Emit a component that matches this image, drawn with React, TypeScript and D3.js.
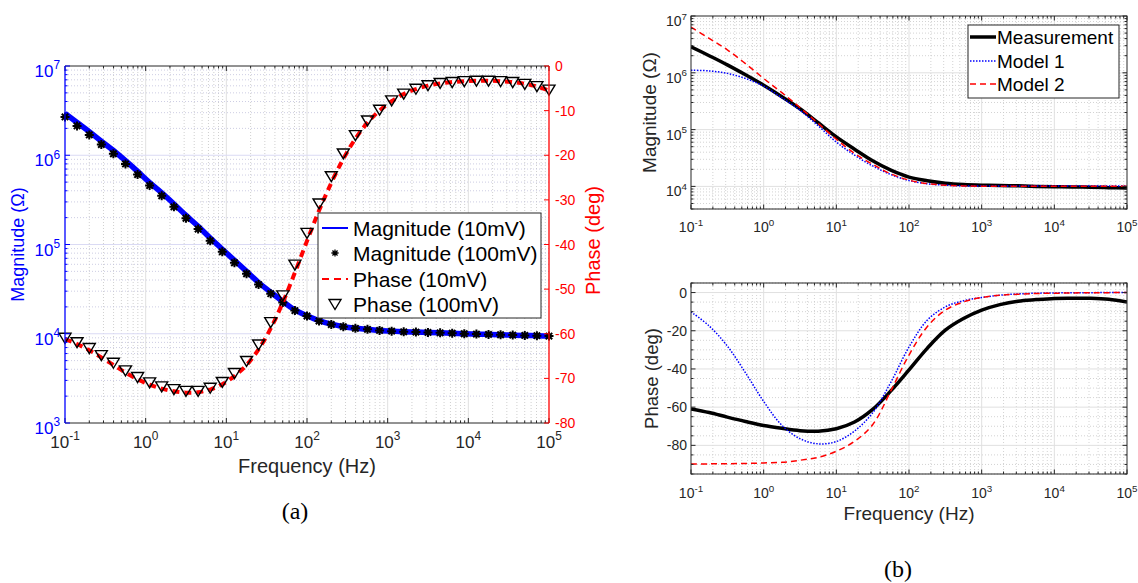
import { useEffect, useRef } from 'react';
import * as d3 from 'd3';

// ---------- panel (a): 10 mV vs 100 mV sweep ----------
const freqA = [
  0.1, 0.141, 0.2, 0.282, 0.398, 0.562, 0.794, 1.12, 1.58, 2.24,
  3.16, 4.47, 6.31, 8.91, 12.6, 17.8, 25.1, 35.5, 50.1, 70.8,
  100, 141, 200, 282, 398, 562, 794, 1120, 1580, 2240,
  3160, 4470, 6310, 8910, 12600, 17800, 25100, 35500, 50100, 70800, 100000,
];
const mag10mV = [
  2.95e6, 2.33e6, 1.84e6, 1.44e6, 1.13e6, 8.7e5, 6.6e5, 4.95e5, 3.8e5, 2.85e5,
  2.12e5, 1.6e5, 1.18e5, 8.85e4, 6.65e4, 5.0e4, 3.75e4, 2.92e4, 2.3e4, 1.85e4,
  1.59e4, 1.4e4, 1.28e4, 1.2e4, 1.15e4, 1.12e4, 1.09e4, 1.07e4, 1.055e4, 1.045e4,
  1.035e4, 1.025e4, 1.015e4, 1.0e4, 9.9e3, 9.82e3, 9.74e3, 9.65e3, 9.57e3, 9.5e3, 9.42e3,
];
const mag100mV = [
  2.69e6, 2.13e6, 1.69e6, 1.32e6, 1.04e6, 8.0e5, 6.08e5, 4.57e5, 3.51e5, 2.64e5,
  1.97e5, 1.49e5, 1.1e5, 8.28e4, 6.24e4, 4.7e4, 3.56e4, 2.81e4, 2.24e4, 1.82e4,
  1.58e4, 1.39e4, 1.27e4, 1.2e4, 1.15e4, 1.12e4, 1.09e4, 1.07e4, 1.05e4, 1.045e4,
  1.035e4, 1.025e4, 1.016e4, 1.0e4, 9.91e3, 9.84e3, 9.75e3, 9.66e3, 9.57e3, 9.51e3, 9.42e3,
];
const phase10mV = [
  -61.2, -62.3, -63.7, -65.3, -67.0, -68.7, -70.2, -71.4, -72.3, -72.9,
  -73.2, -73.1, -72.5, -71.3, -69.5, -67.0, -63.5, -58.8, -53.0, -46.3,
  -39.2, -32.4, -26.2, -20.8, -16.3, -12.7, -10.0, -7.9, -6.3, -5.2,
  -4.4, -3.9, -3.6, -3.4, -3.3, -3.3, -3.4, -3.6, -4.0, -4.6, -5.5,
];
const phase100mV = [
  -60.9, -61.9, -63.2, -64.8, -66.5, -68.2, -69.7, -70.9, -71.8, -72.4,
  -72.8, -72.8, -72.1, -70.8, -68.8, -66.1, -62.4, -57.4, -51.4, -44.5,
  -37.4, -30.8, -24.7, -19.6, -15.5, -12.2, -9.8, -7.7, -6.2, -5.1,
  -4.3, -3.8, -3.6, -3.4, -3.3, -3.3, -3.4, -3.6, -4.0, -4.5, -5.3,
];

// ---------- panel (b): measurement vs models ----------
const freqB = [
  0.1, 0.178, 0.316, 0.562, 1, 1.78, 3.16, 5.62, 10, 17.8, 31.6, 56.2, 100,
  178, 316, 562, 1000, 1780, 3160, 5620, 10000, 17800, 31600, 56200, 100000,
];
const magMeas = [
  2.88e6, 2.0e6, 1.38e6, 9.23e5, 6.05e5, 3.8e5, 2.33e5, 1.32e5, 7.43e4, 4.52e4, 2.82e4, 1.93e4, 1.46e4,
  1.26e4, 1.14e4, 1.08e4, 1.05e4, 1.035e4, 1.023e4, 1.0e4, 9.9e3, 9.77e3, 9.66e3, 9.5e3, 9.35e3,
];
const magModel1 = [
  1.11e6, 1.08e6, 9.77e5, 7.94e5, 5.82e5, 3.63e5, 2.19e5, 1.17e5, 6.03e4, 3.55e4, 2.29e4, 1.62e4, 1.27e4,
  1.11e4, 1.05e4, 1.02e4, 1.014e4, 1.012e4, 1.012e4, 1.012e4, 1.012e4, 1.012e4, 1.012e4, 1.012e4, 1.012e4,
];
const magModel2 = [
  6.38e6, 4.03e6, 2.54e6, 1.45e6, 7.94e5, 4.47e5, 2.45e5, 1.29e5, 6.76e4, 3.8e4, 2.45e4, 1.66e4, 1.29e4,
  1.12e4, 1.05e4, 1.02e4, 1.007e4, 1.005e4, 1.005e4, 1.005e4, 1.005e4, 1.005e4, 1.005e4, 1.005e4, 1.005e4,
];
const phaseMeas = [
  -60.9, -62.8, -65.2, -67.5, -69.6, -71.1, -72.3, -72.6, -71.3, -67.8, -61.2, -51.5, -40.5,
  -29.2, -19.7, -13.6, -9.2, -6.3, -4.5, -3.7, -3.1, -3.0, -3.0, -3.5, -4.9,
];
const phaseModel1 = [
  -10.1, -17.5, -28.0, -42.0, -57.0, -69.5, -76.5, -79.2, -78.0, -72.5, -63.0, -47.0, -28.5,
  -14.5, -7.5, -4.3, -2.6, -1.4, -0.7, -0.35, -0.2, -0.1, -0.05, 0, 0,
];
const phaseModel2 = [
  -89.7, -89.7, -89.6, -89.5, -89.2, -88.9, -87.8, -86.3, -83.1, -77.9, -69.2, -51.5, -32.7,
  -17.9, -9.2, -4.9, -2.6, -1.4, -0.9, -0.5, -0.35, -0.2, -0.1, -0.05, 0,
];

// tick values
const freqTicks = [0.1, 1, 10, 100, 1000, 10000, 100000];
const magTicksA = [1e3, 1e4, 1e5, 1e6, 1e7];
const phaseTicksA = [0, -10, -20, -30, -40, -50, -60, -70, -80];
const magTicksB = [1e4, 1e5, 1e6, 1e7];
const phaseTicksB = [0, -20, -40, -60, -80];

const legendA = ['Magnitude (10mV)', 'Magnitude (100mV)', 'Phase (10mV)', 'Phase (100mV)'];
const legendB = ['Measurement', 'Model 1', 'Model 2'];

const FONT = '"Liberation Sans", Arial, Helvetica, sans-serif';
const DARK = '#262626';
const BLUE = '#0000ff';
const RED = '#ff0000';

const isDecade = (v: number) => Math.abs(Math.log10(v) - Math.round(Math.log10(v))) < 1e-9;
const expOf = (v: number) => String(Math.round(Math.log10(v)));

const asterisk = 'M-4.5,0H4.5M0,-4.5V4.5M-3.2,-3.2L3.2,3.2M-3.2,3.2L3.2,-3.2';
const triangle = 'M-6,-4.5H6L0,5.5Z';

function hLines(g: any, ys: number[], box: any, color: string, dash: string | null) {
  g.append('g').selectAll('line').data(ys).join('line')
    .attr('x1', box.l).attr('x2', box.r)
    .attr('y1', (d: number) => d).attr('y2', (d: number) => d)
    .attr('stroke', color).attr('stroke-width', dash ? 0.8 : 1)
    .attr('stroke-dasharray', dash);
}

function vLines(g: any, xs: number[], box: any, color: string, dash: string | null) {
  g.append('g').selectAll('line').data(xs).join('line')
    .attr('y1', box.t).attr('y2', box.b)
    .attr('x1', (d: number) => d).attr('x2', (d: number) => d)
    .attr('stroke', color).attr('stroke-width', dash ? 0.8 : 1)
    .attr('stroke-dasharray', dash);
}

function xTicks(g: any, xs: number[], box: any, len: number) {
  g.append('g').selectAll('path').data(xs).join('path')
    .attr('d', (x: number) => `M${x},${box.b}v${-len}M${x},${box.t}v${len}`)
    .attr('stroke', DARK).attr('stroke-width', 1);
}

function yTicks(g: any, ys: number[], x0: number, dir: number, len: number, color: string) {
  g.append('g').selectAll('path').data(ys).join('path')
    .attr('d', (y: number) => `M${x0},${y}h${dir * len}`)
    .attr('stroke', color).attr('stroke-width', 1);
}

function powLabel(g: any, x: number, y: number, exp: string, size: number, anchor: string, color: string) {
  const t = g.append('text').attr('x', x).attr('y', y).attr('text-anchor', anchor)
    .attr('font-size', size).attr('fill', color);
  t.append('tspan').text('10');
  t.append('tspan').attr('dy', -size * 0.45).attr('font-size', size * 0.7).text(exp);
}

function clip(svg: any, id: string, box: any) {
  svg.append('clipPath').attr('id', id).append('rect')
    .attr('x', box.l).attr('y', box.t).attr('width', box.r - box.l).attr('height', box.b - box.t);
}

export default function App() {
  const ref = useRef<SVGSVGElement>(null);

  useEffect(() => {
    const svg = d3.select(ref.current);
    svg.selectAll('*').remove();
    svg.attr('font-family', FONT);

    // ================= (a) =================
    const A = { l: 65, r: 549, t: 66, b: 423 };
    const xA = d3.scaleLog().domain([0.1, 1e5]).range([A.l, A.r]);
    const yMag = d3.scaleLog().domain([1e3, 1e7]).range([A.b, A.t]);
    const yPh = d3.scaleLinear().domain([-80, 0]).range([A.b, A.t]);
    clip(svg, 'clipA', A);
    const gA = svg.append('g');

    const xMinorA = xA.ticks().filter(v => !isDecade(v));
    const yMinorA = yMag.ticks().filter(v => !isDecade(v));
    vLines(gA, xMinorA.map(xA), A, '#c4c4c4', '1,2');
    hLines(gA, yMinorA.map(yMag), A, '#c0c0dc', '1,2');
    vLines(gA, freqTicks.slice(1, -1).map(xA), A, '#e0e0e0', null);
    hLines(gA, magTicksA.slice(1, -1).map(yMag), A, '#dadaf4', null);

    // data
    const lineMagA = d3.line<number>().x((_, i) => xA(freqA[i])).y(d => yMag(d)).curve(d3.curveMonotoneX);
    const linePhA = d3.line<number>().x((_, i) => xA(freqA[i])).y(d => yPh(d)).curve(d3.curveCatmullRom);
    gA.append('path').datum(mag10mV).attr('d', lineMagA).attr('clip-path', 'url(#clipA)')
      .attr('fill', 'none').attr('stroke', BLUE).attr('stroke-width', 5.5);
    gA.append('g').selectAll('path').data(mag100mV).join('path')
      .attr('transform', (d, i) => `translate(${xA(freqA[i])},${yMag(d)})`)
      .attr('d', asterisk).attr('stroke', '#000').attr('stroke-width', 2).attr('fill', 'none');
    gA.append('path').datum(phase10mV).attr('d', linePhA).attr('clip-path', 'url(#clipA)')
      .attr('fill', 'none').attr('stroke', RED).attr('stroke-width', 4).attr('stroke-dasharray', '7,5');
    gA.append('g').selectAll('path').data(phase100mV).join('path')
      .attr('transform', (d, i) => `translate(${xA(freqA[i])},${yPh(d)})`)
      .attr('d', triangle).attr('stroke', '#000').attr('stroke-width', 1.4).attr('fill', 'none');

    // axes frame
    xTicks(gA, freqTicks.map(xA), A, 5);
    xTicks(gA, xMinorA.map(xA), A, 2.5);
    gA.append('line').attr('x1', A.l).attr('x2', A.r).attr('y1', A.b).attr('y2', A.b).attr('stroke', DARK);
    gA.append('line').attr('x1', A.l).attr('x2', A.r).attr('y1', A.t).attr('y2', A.t).attr('stroke', DARK);
    yTicks(gA, magTicksA.map(yMag), A.l, 1, 5, BLUE);
    yTicks(gA, yMinorA.map(yMag), A.l, 1, 2.5, BLUE);
    yTicks(gA, phaseTicksA.map(yPh), A.r, -1, 5, RED);
    gA.append('line').attr('x1', A.l).attr('x2', A.l).attr('y1', A.t).attr('y2', A.b).attr('stroke', BLUE).attr('stroke-width', 1.3);
    gA.append('line').attr('x1', A.r).attr('x2', A.r).attr('y1', A.t).attr('y2', A.b).attr('stroke', RED).attr('stroke-width', 1.3);

    // tick labels
    freqTicks.forEach(v => powLabel(gA, xA(v), 448, expOf(v), 17, 'middle', DARK));
    magTicksA.forEach(v => powLabel(gA, 60, yMag(v) + 11, expOf(v), 17, 'end', BLUE));
    gA.append('g').selectAll('text').data(phaseTicksA).join('text')
      .attr('x', 555).attr('y', d => yPh(d) + 5).attr('font-size', 14).attr('fill', RED).text(d => String(d));

    // axis labels
    gA.append('text').attr('x', 307).attr('y', 473).attr('text-anchor', 'middle')
      .attr('font-size', 20).attr('fill', DARK).text('Frequency (Hz)');
    gA.append('text').attr('transform', `translate(24,${(A.t + A.b) / 2}) rotate(-90)`)
      .attr('text-anchor', 'middle').attr('font-size', 18).attr('fill', BLUE).text('Magnitude (Ω)');
    gA.append('text').attr('transform', `translate(600,${(A.t + A.b) / 2 - 4}) rotate(-90)`)
      .attr('text-anchor', 'middle').attr('font-size', 20).attr('fill', RED).text('Phase (deg)');
    gA.append('text').attr('x', 295).attr('y', 519).attr('text-anchor', 'middle')
      .attr('font-family', '"Liberation Serif", "DejaVu Serif", serif').attr('font-size', 24)
      .attr('fill', '#000').text('(a)');

    // legend (a)
    const lgA = gA.append('g');
    lgA.append('rect').attr('x', 318).attr('y', 213).attr('width', 223).attr('height', 105)
      .attr('fill', '#fff').attr('stroke', DARK).attr('stroke-width', 1);
    const rowsA = [228, 253, 279, 304];
    lgA.append('line').attr('x1', 322).attr('x2', 348).attr('y1', rowsA[0]).attr('y2', rowsA[0])
      .attr('stroke', BLUE).attr('stroke-width', 2);
    lgA.append('path').attr('d', asterisk)
      .attr('stroke', '#000').attr('stroke-width', 1.6).attr('transform', `translate(335,${rowsA[1]}) scale(0.8)`);
    lgA.append('line').attr('x1', 322).attr('x2', 348).attr('y1', rowsA[2]).attr('y2', rowsA[2])
      .attr('stroke', RED).attr('stroke-width', 2).attr('stroke-dasharray', '7,5');
    lgA.append('path').attr('transform', `translate(335,${rowsA[3]})`).attr('d', triangle)
      .attr('stroke', '#000').attr('stroke-width', 1.4).attr('fill', 'none');
    lgA.selectAll('text').data(legendA).join('text')
      .attr('x', 353).attr('y', (_, i) => rowsA[i] + 7.5).attr('font-size', 21).attr('fill', '#000')
      .text(d => d);

    // ================= (b) magnitude =================
    const B1 = { l: 691, r: 1127, t: 16, b: 209 };
    const xB = d3.scaleLog().domain([0.1, 1e5]).range([B1.l, B1.r]);
    const yMagB = d3.scaleLog().domain([4e3, 1e7]).range([B1.b, B1.t]);
    clip(svg, 'clipB1', B1);
    const gB1 = svg.append('g');
    const xMinorB = xB.ticks().filter(v => !isDecade(v));
    const yMinorB = yMagB.ticks().filter(v => !isDecade(v));
    vLines(gB1, xMinorB.map(xB), B1, '#c8c8c8', '1,2');
    hLines(gB1, yMinorB.map(yMagB), B1, '#c8c8c8', '1,2');
    vLines(gB1, freqTicks.slice(1, -1).map(xB), B1, '#e0e0e0', null);
    hLines(gB1, magTicksB.slice(0, -1).map(yMagB), B1, '#e0e0e0', null);

    const lineMagB = d3.line<number>().x((_, i) => xB(freqB[i])).y(d => yMagB(d)).curve(d3.curveCatmullRom);
    gB1.append('path').datum(magMeas).attr('d', lineMagB).attr('clip-path', 'url(#clipB1)')
      .attr('fill', 'none').attr('stroke', '#000').attr('stroke-width', 3.5);
    gB1.append('path').datum(magModel1).attr('d', lineMagB).attr('clip-path', 'url(#clipB1)')
      .attr('fill', 'none').attr('stroke', BLUE).attr('stroke-width', 1.5).attr('stroke-dasharray', '1.5,1.5');
    gB1.append('path').datum(magModel2).attr('d', lineMagB).attr('clip-path', 'url(#clipB1)')
      .attr('fill', 'none').attr('stroke', RED).attr('stroke-width', 1.5).attr('stroke-dasharray', '6,4');

    xTicks(gB1, freqTicks.map(xB), B1, 4.5);
    xTicks(gB1, xMinorB.map(xB), B1, 2.5);
    yTicks(gB1, magTicksB.map(yMagB), B1.l, 1, 4.5, DARK);
    yTicks(gB1, yMinorB.map(yMagB), B1.l, 1, 2.5, DARK);
    yTicks(gB1, magTicksB.map(yMagB), B1.r, -1, 4.5, DARK);
    yTicks(gB1, yMinorB.map(yMagB), B1.r, -1, 2.5, DARK);
    gB1.append('rect').attr('x', B1.l).attr('y', B1.t).attr('width', B1.r - B1.l).attr('height', B1.b - B1.t)
      .attr('fill', 'none').attr('stroke', DARK).attr('stroke-width', 1);

    freqTicks.forEach(v => powLabel(gB1, xB(v), 232, expOf(v), 14, 'middle', DARK));
    magTicksB.forEach(v => powLabel(gB1, 687, yMagB(v) + 10, expOf(v), 14, 'end', DARK));
    gB1.append('text').attr('transform', `translate(656,${(B1.t + B1.b) / 2}) rotate(-90)`)
      .attr('text-anchor', 'middle').attr('font-size', 19).attr('fill', DARK).text('Magnitude (Ω)');

    // legend (b)
    const lgB = gB1.append('g');
    lgB.append('rect').attr('x', 968).attr('y', 25).attr('width', 151).attr('height', 73)
      .attr('fill', '#fff').attr('stroke', DARK).attr('stroke-width', 1);
    const rowsB = [37, 61, 84];
    lgB.append('line').attr('x1', 970).attr('x2', 996).attr('y1', rowsB[0]).attr('y2', rowsB[0])
      .attr('stroke', '#000').attr('stroke-width', 3.5);
    lgB.append('line').attr('x1', 970).attr('x2', 996).attr('y1', rowsB[1]).attr('y2', rowsB[1])
      .attr('stroke', BLUE).attr('stroke-width', 1.5).attr('stroke-dasharray', '1.5,1.5');
    lgB.append('line').attr('x1', 970).attr('x2', 996).attr('y1', rowsB[2]).attr('y2', rowsB[2])
      .attr('stroke', RED).attr('stroke-width', 1.5).attr('stroke-dasharray', '6,4');
    lgB.selectAll('text').data(legendB).join('text')
      .attr('x', 997).attr('y', (_, i) => rowsB[i] + 7).attr('font-size', 19).attr('fill', '#000')
      .text(d => d);

    // ================= (b) phase =================
    const B2 = { l: 691, r: 1127, t: 283, b: 474 };
    const yPhB = d3.scaleLinear().domain([-95, 5]).range([B2.b, B2.t]);
    const phMinorB = d3.range(-95, 10, 5).filter(v => v % 20 !== 0);
    clip(svg, 'clipB2', B2);
    const gB2 = svg.append('g');
    vLines(gB2, xMinorB.map(xB), B2, '#c8c8c8', '1,2');
    hLines(gB2, phMinorB.map(yPhB), B2, '#c8c8c8', '1,2');
    vLines(gB2, freqTicks.slice(1, -1).map(xB), B2, '#e0e0e0', null);
    hLines(gB2, phaseTicksB.map(yPhB), B2, '#e0e0e0', null);

    const linePhB = d3.line<number>().x((_, i) => xB(freqB[i])).y(d => yPhB(d)).curve(d3.curveCatmullRom);
    gB2.append('path').datum(phaseMeas).attr('d', linePhB).attr('clip-path', 'url(#clipB2)')
      .attr('fill', 'none').attr('stroke', '#000').attr('stroke-width', 3.5);
    gB2.append('path').datum(phaseModel1).attr('d', linePhB).attr('clip-path', 'url(#clipB2)')
      .attr('fill', 'none').attr('stroke', BLUE).attr('stroke-width', 1.5).attr('stroke-dasharray', '1.5,1.5');
    gB2.append('path').datum(phaseModel2).attr('d', linePhB).attr('clip-path', 'url(#clipB2)')
      .attr('fill', 'none').attr('stroke', RED).attr('stroke-width', 1.5).attr('stroke-dasharray', '6,4');

    xTicks(gB2, freqTicks.map(xB), B2, 4.5);
    xTicks(gB2, xMinorB.map(xB), B2, 2.5);
    yTicks(gB2, phaseTicksB.map(yPhB), B2.l, 1, 4.5, DARK);
    yTicks(gB2, phMinorB.map(yPhB), B2.l, 1, 2.5, DARK);
    yTicks(gB2, phaseTicksB.map(yPhB), B2.r, -1, 4.5, DARK);
    yTicks(gB2, phMinorB.map(yPhB), B2.r, -1, 2.5, DARK);
    gB2.append('rect').attr('x', B2.l).attr('y', B2.t).attr('width', B2.r - B2.l).attr('height', B2.b - B2.t)
      .attr('fill', 'none').attr('stroke', DARK).attr('stroke-width', 1);

    freqTicks.forEach(v => powLabel(gB2, xB(v), 498, expOf(v), 14, 'middle', DARK));
    gB2.append('g').selectAll('text').data(phaseTicksB).join('text')
      .attr('x', 687).attr('y', d => yPhB(d) + 5).attr('text-anchor', 'end')
      .attr('font-size', 14).attr('fill', DARK).text(d => String(d));
    gB2.append('text').attr('transform', `translate(658,${(B2.t + B2.b) / 2}) rotate(-90)`)
      .attr('text-anchor', 'middle').attr('font-size', 18.5).attr('fill', DARK).text('Phase (deg)');
    gB2.append('text').attr('x', 909).attr('y', 520).attr('text-anchor', 'middle')
      .attr('font-size', 19).attr('fill', DARK).text('Frequency (Hz)');
    gB2.append('text').attr('x', 898).attr('y', 577).attr('text-anchor', 'middle')
      .attr('font-family', '"Liberation Serif", "DejaVu Serif", serif').attr('font-size', 24)
      .attr('fill', '#000').text('(b)');
  }, []);

  return (
    <svg
      ref={ref}
      width={1138}
      height={583}
      style={{ position: 'absolute', left: 0, top: 0, background: '#fff' }}
    />
  );
}
